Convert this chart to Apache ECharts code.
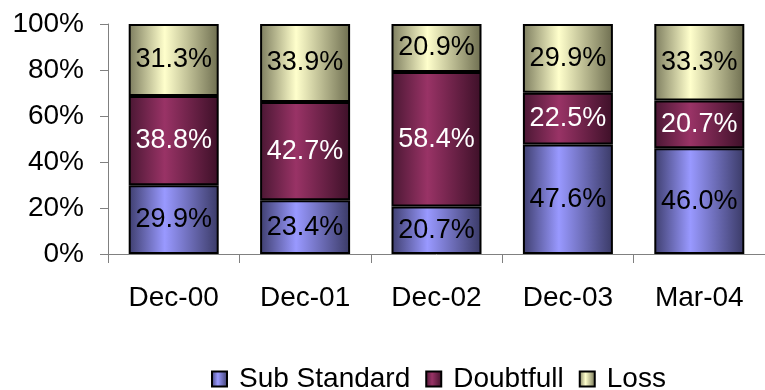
<!DOCTYPE html>
<html>
<head>
<meta charset="utf-8">
<script src="https://cdn.jsdelivr.net/npm/echarts@6/dist/echarts.min.js"></script>
<style>
  html, body { margin: 0; padding: 0; background: #ffffff; }
  #chart { width: 765px; height: 390px; }
</style>
</head>
<body>
<div id="chart"></div>
<script>
// Classified loan portfolio composition by period (percent of total)
const categories = ['Dec-00', 'Dec-01', 'Dec-02', 'Dec-03', 'Mar-04'];
const subStandard = [29.9, 23.4, 20.7, 47.6, 46.0];
const doubtfull = [38.8, 42.7, 58.4, 22.5, 20.7];
const loss = [31.3, 33.9, 20.9, 29.9, 33.3];
const yTicks = [0, 20, 40, 60, 80, 100];

const FONT = '"Liberation Sans", Arial, sans-serif';

// horizontal shaded fill: dark edges, light band left of centre
function shade(edgeL, mid, edgeR) {
  return new echarts.graphic.LinearGradient(0, 0, 1, 0, [
    { offset: 0, color: edgeL },
    { offset: 0.4, color: mid },
    { offset: 1, color: edgeR }
  ]);
}

function makeSeries(name, data, fill, labelColor) {
  return {
    name: name,
    type: 'bar',
    stack: 'total',
    barWidth: 90,
    data: data,
    itemStyle: { color: fill, borderColor: '#000000', borderWidth: 2 },
    label: {
      show: true,
      position: 'inside',
      color: labelColor,
      fontFamily: FONT,
      fontSize: 27,
      formatter: p => p.value.toFixed(1) + '%'
    },
    emphasis: { disabled: true }
  };
}

const chart = echarts.init(document.getElementById('chart'), null, { renderer: 'canvas' });
chart.setOption({
  animation: false,
  backgroundColor: '#ffffff',
  grid: { left: 108, top: 24, width: 665, height: 230, containLabel: false },
  legend: {
    left: 206,
    top: 360,
    itemWidth: 15,
    itemHeight: 15,
    itemGap: 15,
    icon: 'rect',
    textStyle: { fontFamily: FONT, fontSize: 28, color: '#000000', padding: [0, 0, 0, 7] },
    data: ['Sub Standard', 'Doubtfull', 'Loss']
  },
  xAxis: {
    type: 'category',
    data: categories,
    axisLine: { lineStyle: { color: '#808080', width: 1 } },
    axisTick: { show: true, length: 9, alignWithLabel: false, lineStyle: { color: '#808080' } },
    axisLabel: { fontFamily: FONT, fontSize: 28, color: '#000000', margin: 30 }
  },
  yAxis: {
    type: 'value',
    min: yTicks[0],
    max: yTicks[yTicks.length - 1],
    interval: 20,
    splitLine: { show: false },
    axisLine: { show: true, lineStyle: { color: '#808080', width: 1 } },
    axisTick: { show: true, length: 8, lineStyle: { color: '#808080' } },
    axisLabel: { fontFamily: FONT, fontSize: 28, color: '#000000', margin: 24, formatter: v => v + '%' }
  },
  series: [
    makeSeries('Sub Standard', subStandard, shade('#3e3e6e', '#9999ff', '#3a3a66'), '#000000'),
    makeSeries('Doubtfull', doubtfull, shade('#4a1733', '#993366', '#3d1028'), '#ffffff'),
    makeSeries('Loss', loss, shade('#7c7c5e', '#ffffcc', '#6e6e50'), '#000000')
  ]
});
</script>
</body>
</html>
